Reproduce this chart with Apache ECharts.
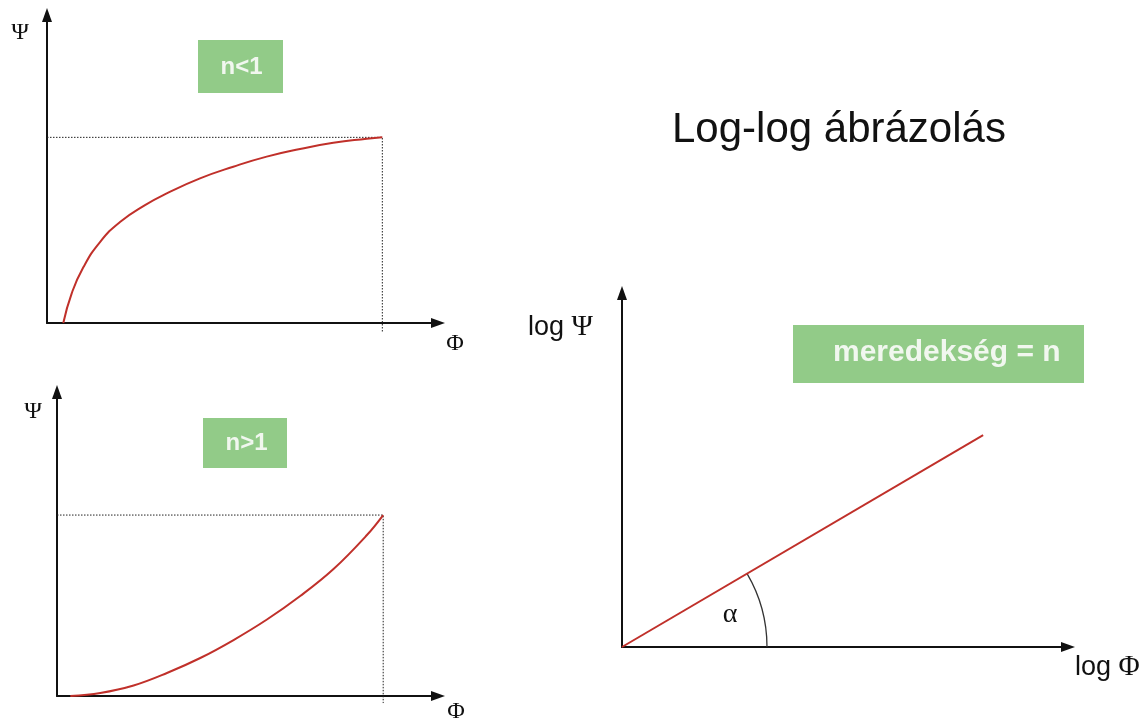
<!DOCTYPE html>
<html><head><meta charset="utf-8">
<script src="https://cdn.jsdelivr.net/npm/echarts@6/dist/echarts.min.js"></script>
<style>html,body{margin:0;padding:0;background:#fff}#c{width:1143px;height:723px}</style>
</head><body><div id="c"></div>
<script>
// Panel 1 (n<1): concave curve
const phiA = [0.486, 0.737, 1.083, 1.581, 2.177, 2.923, 3.570, 4.563, 5.556, 6.552, 7.545, 8.539, 9.535, 10];
const psiA = [0, 1.60, 3.00, 4.36, 5.44, 6.35, 6.98, 7.79, 8.42, 8.96, 9.37, 9.71, 9.92, 10];
// Panel 2 (n>1): convex curve
const phiB = [0.408, 1.327, 2.348, 3.371, 4.392, 5.412, 6.436, 7.456, 8.477, 9.501, 10];
const psiB = [0, 0.166, 0.58, 1.271, 2.099, 3.094, 4.227, 5.525, 7.017, 8.895, 10];
// Dotted guides (end point of the curves)
const guidePhiA = [0, 10, 10];
const guidePsiA = [10, 10, -0.5];
const guidePhiB = [0, 10, 10];
const guidePsiB = [10, 10, -0.39];
// Panel 3: log-log straight line
const logPhi = [0, 10];
const logPsi = [0, 5.87];
// Texts
const boxLabels = ['n<1', 'n>1', 'meredekség = n'];
const titleText = 'Log-log ábrázolás';

const pairs = (xs, ys) => xs.map((x, i) => [x, ys[i]]);
const SANS = '"Liberation Sans", Arial, sans-serif';
const SERIF = '"Liberation Serif", "Times New Roman", serif';
const RED = '#c0302a';
const GREEN = '#92cb88';
const BOXTXT = '#f1f7ef';

function mkAxis(idx, max) {
  return {
    type: 'value', gridIndex: idx, min: 0, max: max,
    axisLine: { show: true, onZero: false, symbol: ['none', 'triangle'], symbolSize: [10, 14],
      lineStyle: { color: '#111', width: 2 } },
    axisTick: { show: false }, axisLabel: { show: false }, splitLine: { show: false }
  };
}

const chart = echarts.init(document.getElementById('c'), null, { renderer: 'canvas' });
chart.setOption({
  backgroundColor: '#ffffff',
  animation: false,
  grid: [
    { left: 47, top: 15, width: 391, height: 308 },
    { left: 57, top: 392, width: 381, height: 304 },
    { left: 622, top: 293, width: 446, height: 354 }
  ],
  xAxis: [mkAxis(0, 11.66), mkAxis(1, 11.68), mkAxis(2, 12.35)],
  yAxis: [mkAxis(0, 16.59), mkAxis(1, 16.8), mkAxis(2, 9.81)],
  series: [
    { type: 'line', xAxisIndex: 0, yAxisIndex: 0, data: pairs(guidePhiA, guidePsiA), clip: false,
      showSymbol: false, lineStyle: { color: '#222', width: 1, type: [1.5, 1.5] }, z: 1 },
    { type: 'line', xAxisIndex: 1, yAxisIndex: 1, data: pairs(guidePhiB, guidePsiB), clip: false,
      showSymbol: false, lineStyle: { color: '#222', width: 1, type: [1.5, 1.5] }, z: 1 },
    { type: 'line', xAxisIndex: 0, yAxisIndex: 0, data: pairs(phiA, psiA), smooth: 0.5,
      showSymbol: false, lineStyle: { color: RED, width: 2 }, z: 3 },
    { type: 'line', xAxisIndex: 1, yAxisIndex: 1, data: pairs(phiB, psiB), smooth: 0.4,
      showSymbol: false, lineStyle: { color: RED, width: 2 }, z: 3 },
    { type: 'line', xAxisIndex: 2, yAxisIndex: 2, data: pairs(logPhi, logPsi),
      showSymbol: false, lineStyle: { color: RED, width: 2 }, z: 3 },
    { type: 'custom', xAxisIndex: 2, yAxisIndex: 2, data: [[logPhi[0], logPsi[0]]], silent: true, clip: false,
      renderItem: function (params, api) {
        const o = api.coord([logPhi[0], logPsi[0]]);
        const e = api.coord([logPhi[1], logPsi[1]]);
        const ang = Math.atan2(o[1] - e[1], e[0] - o[0]);
        return { type: 'arc', shape: { cx: o[0], cy: o[1], r: 145, startAngle: -ang, endAngle: 0, clockwise: true },
          style: { stroke: '#333', fill: null, lineWidth: 1.3 } };
      }, z: 2 }
  ],
  graphic: [
    { type: 'text', x: 672, y: 130.5, style: { text: titleText, font: '42px ' + SANS, fill: '#111', textAlign: 'left', textVerticalAlign: 'middle' } },
    // boxes
    { type: 'rect', shape: { x: 198, y: 40, width: 85, height: 53 }, style: { fill: GREEN } },
    { type: 'text', x: 241.5, y: 67, style: { text: boxLabels[0], font: 'bold 24px ' + SANS, fill: BOXTXT, textAlign: 'center', textVerticalAlign: 'middle' } },
    { type: 'rect', shape: { x: 203, y: 418, width: 84, height: 50 }, style: { fill: GREEN } },
    { type: 'text', x: 246.5, y: 443, style: { text: boxLabels[1], font: 'bold 24px ' + SANS, fill: BOXTXT, textAlign: 'center', textVerticalAlign: 'middle' } },
    { type: 'rect', shape: { x: 793, y: 325, width: 291, height: 58 }, style: { fill: GREEN } },
    { type: 'text', x: 833, y: 353, style: { text: boxLabels[2], font: 'bold 30px ' + SANS, fill: BOXTXT, textAlign: 'left', textVerticalAlign: 'middle' } },
    // axis names
    { type: 'text', x: 20, y: 33, style: { text: 'Ψ', font: '24px ' + SERIF, fill: '#111', textAlign: 'center', textVerticalAlign: 'middle' } },
    { type: 'text', x: 455, y: 344, style: { text: 'Φ', font: '24px ' + SERIF, fill: '#111', textAlign: 'center', textVerticalAlign: 'middle' } },
    { type: 'text', x: 33, y: 412, style: { text: 'Ψ', font: '24px ' + SERIF, fill: '#111', textAlign: 'center', textVerticalAlign: 'middle' } },
    { type: 'text', x: 456, y: 712, style: { text: 'Φ', font: '24px ' + SERIF, fill: '#111', textAlign: 'center', textVerticalAlign: 'middle' } },
    { type: 'text', x: 528, y: 327.6, style: { text: '{a|log }{b|Ψ}', rich: { a: { font: '27px ' + SANS, fill: '#111' }, b: { font: '29px ' + SERIF, fill: '#111' } }, textAlign: 'left', textVerticalAlign: 'middle' } },
    { type: 'text', x: 1075, y: 667.6, style: { text: '{a|log }{b|Φ}', rich: { a: { font: '27px ' + SANS, fill: '#111' }, b: { font: '29px ' + SERIF, fill: '#111' } }, textAlign: 'left', textVerticalAlign: 'middle' } },
    { type: 'text', x: 730, y: 615, style: { text: 'α', font: '28px ' + SERIF, fill: '#111', textAlign: 'center', textVerticalAlign: 'middle' } }
  ]
});
</script></body></html>
